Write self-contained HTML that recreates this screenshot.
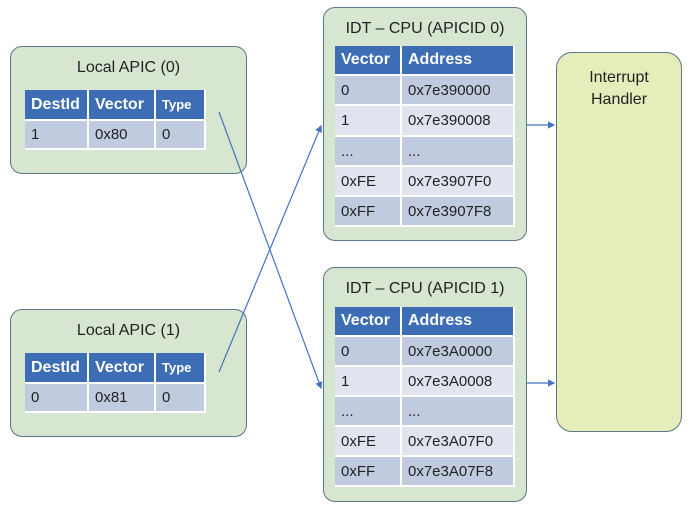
<!DOCTYPE html>
<html><head><style>
body{margin:0;width:691px;height:511px;background:#fff;position:relative;overflow:hidden;font-family:"Liberation Sans",sans-serif}
.box{position:absolute;background:#d7e6d1;border:1.5px solid #5b7685;border-radius:12px;box-sizing:border-box}
.t{position:absolute;left:0;right:0;text-align:center;font-size:16px;color:#222}
.c{position:absolute;box-sizing:border-box;font-size:15px;color:#222;padding-left:6px;display:flex;align-items:center;border-right:2px solid #fff;border-bottom:2px solid #fff}
.h{background:#3d6db4;color:#fff;font-weight:bold;font-size:16px}
.a{background:#c0cbe0}.b{background:#dfe4ef}
</style></head><body>
<div class="box" style="left:10px;top:46px;width:237px;height:128px"><div class="t" style="top:12px">Local APIC (0)</div></div>
<div class="box" style="left:10px;top:309px;width:237px;height:128px"><div class="t" style="top:12px">Local APIC (1)</div></div>
<div class="box" style="left:323px;top:7px;width:204px;height:234px"><div class="t" style="top:12px">IDT – CPU (APICID 0)</div></div>
<div class="box" style="left:323px;top:267px;width:204px;height:235px"><div class="t" style="top:12px">IDT – CPU (APICID 1)</div></div>
<div class="box" style="left:556px;top:52px;width:126px;height:380px;background:#e5edbb;border-radius:16px"><div class="t" style="top:14px;line-height:22px">Interrupt<br>Handler</div></div>

<div class="c h" style="left:25px;top:90px;width:64px;height:31px">DestId</div>
<div class="c h" style="left:89px;top:90px;width:67px;height:31px">Vector</div>
<div class="c h" style="left:156px;top:90px;width:50px;height:31px;font-size:13px">Type</div>
<div class="c a" style="left:25px;top:121px;width:64px;height:29px">1</div>
<div class="c a" style="left:89px;top:121px;width:67px;height:29px">0x80</div>
<div class="c a" style="left:156px;top:121px;width:50px;height:29px">0</div>
<div class="c h" style="left:25px;top:353px;width:64px;height:31px">DestId</div>
<div class="c h" style="left:89px;top:353px;width:67px;height:31px">Vector</div>
<div class="c h" style="left:156px;top:353px;width:50px;height:31px;font-size:13px">Type</div>
<div class="c a" style="left:25px;top:384px;width:64px;height:29px">0</div>
<div class="c a" style="left:89px;top:384px;width:67px;height:29px">0x81</div>
<div class="c a" style="left:156px;top:384px;width:50px;height:29px">0</div>

<div class="c h" style="left:335px;top:46px;width:67px;height:30px">Vector</div>
<div class="c h" style="left:402px;top:46px;width:113px;height:30px">Address</div>
<div class="c a" style="left:335px;top:76px;width:67px;height:30px">0</div><div class="c a" style="left:402px;top:76px;width:113px;height:30px">0x7e390000</div>
<div class="c b" style="left:335px;top:106px;width:67px;height:31px">1</div><div class="c b" style="left:402px;top:106px;width:113px;height:31px">0x7e390008</div>
<div class="c a" style="left:335px;top:137px;width:67px;height:30px">...</div><div class="c a" style="left:402px;top:137px;width:113px;height:30px">...</div>
<div class="c b" style="left:335px;top:167px;width:67px;height:30px">0xFE</div><div class="c b" style="left:402px;top:167px;width:113px;height:30px">0x7e3907F0</div>
<div class="c a" style="left:335px;top:197px;width:67px;height:30px">0xFF</div><div class="c a" style="left:402px;top:197px;width:113px;height:30px">0x7e3907F8</div>

<div class="c h" style="left:335px;top:307px;width:67px;height:30px">Vector</div>
<div class="c h" style="left:402px;top:307px;width:113px;height:30px">Address</div>
<div class="c a" style="left:335px;top:337px;width:67px;height:30px">0</div><div class="c a" style="left:402px;top:337px;width:113px;height:30px">0x7e3A0000</div>
<div class="c b" style="left:335px;top:367px;width:67px;height:30px">1</div><div class="c b" style="left:402px;top:367px;width:113px;height:30px">0x7e3A0008</div>
<div class="c a" style="left:335px;top:397px;width:67px;height:30px">...</div><div class="c a" style="left:402px;top:397px;width:113px;height:30px">...</div>
<div class="c b" style="left:335px;top:427px;width:67px;height:30px">0xFE</div><div class="c b" style="left:402px;top:427px;width:113px;height:30px">0x7e3A07F0</div>
<div class="c a" style="left:335px;top:457px;width:67px;height:30px">0xFF</div><div class="c a" style="left:402px;top:457px;width:113px;height:30px">0x7e3A07F8</div>

<svg width="691" height="511" style="position:absolute;left:0;top:0">
<defs><marker id="m" markerWidth="6" markerHeight="6" refX="5" refY="3" orient="auto"><path d="M0,0L6,3L0,6z" fill="#4472c4"/></marker></defs>
<g stroke="#4472c4" stroke-width="1.2" fill="none" marker-end="url(#m)">
<line x1="219" y1="112" x2="321" y2="388"/>
<line x1="219" y1="372" x2="321" y2="126"/>
<line x1="527" y1="125" x2="554" y2="125"/>
<line x1="527" y1="383" x2="554" y2="383"/>
</g></svg>
</body></html>
